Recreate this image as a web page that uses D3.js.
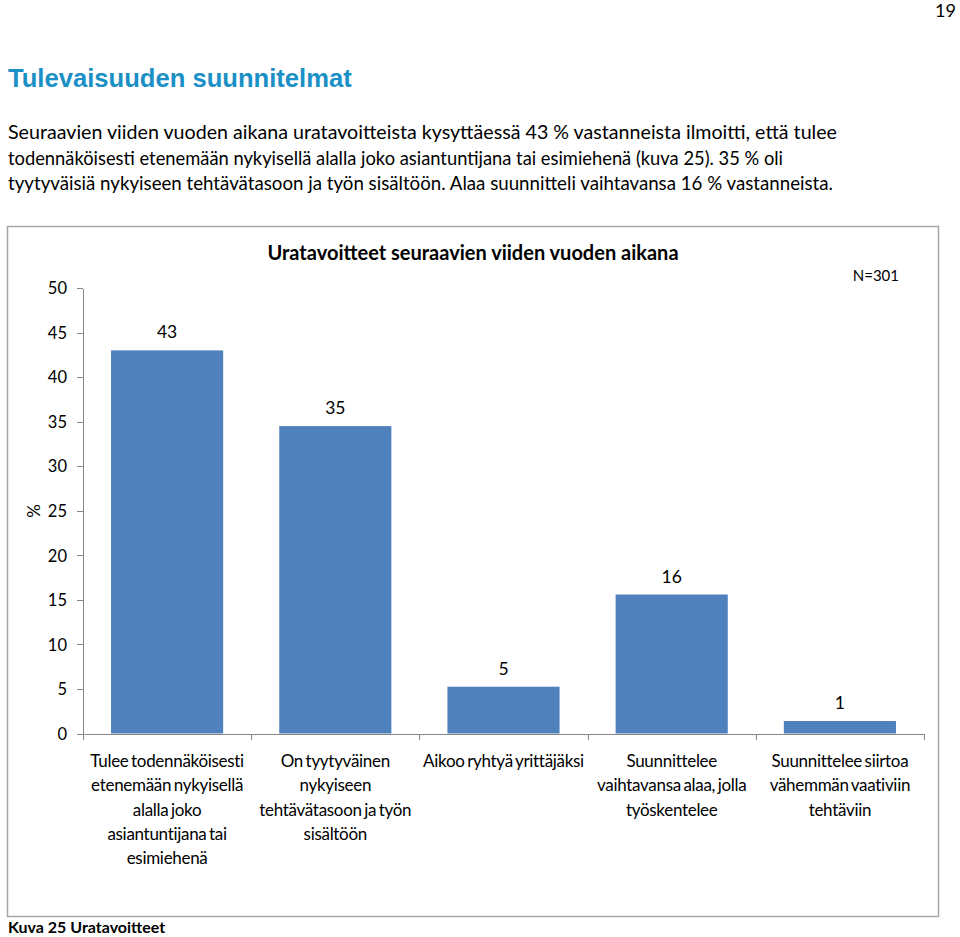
<!DOCTYPE html>
<html>
<head>
<meta charset="utf-8">
<style>
  body{margin:0;background:#fff}
  svg text{font-family:Lato,"Noto Sans",sans-serif;fill:#000}
  .axis path,.axis line{stroke:#868686;shape-rendering:crispEdges}
  .axis text{font-size:16.5px;fill:#000}
</style>
</head>
<body>
<div id="page"></div>
<script src="https://d3js.org/d3.v7.min.js"></script>
<script>
// data
var categories = [
  ["Tulee todennäköisesti", "etenemään nykyisellä", "alalla joko", "asiantuntijana tai", "esimiehenä"],
  ["On tyytyväinen", "nykyiseen", "tehtävätasoon ja työn", "sisältöön"],
  ["Aikoo ryhtyä yrittäjäksi"],
  ["Suunnittelee", "vaihtavansa alaa, jolla", "työskentelee"],
  ["Suunnittelee siirtoa", "vähemmän vaativiin", "tehtäviin"]
];
var values = [43, 34.5, 5.25, 15.6, 1.4];
var yTicks = [0, 5, 10, 15, 20, 25, 30, 35, 40, 45, 50];

var paragraph = [
  "Seuraavien viiden vuoden aikana uratavoitteista kysyttäessä 43 % vastanneista ilmoitti, että tulee",
  "todennäköisesti etenemään nykyisellä alalla joko asiantuntijana tai esimiehenä (kuva 25). 35 % oli",
  "tyytyväisiä nykyiseen tehtävätasoon ja työn sisältöön. Alaa suunnitteli vaihtavansa 16 % vastanneista."
];

(function () {
  var width = 960, height = 937;

  var svg = d3.select('#page').append('svg')
    .attr('width', width)
    .attr('height', height);

  // page number
  svg.append('text')
    .attr('x', 956).attr('y', 17)
    .attr('text-anchor', 'end')
    .style('font-size', '18px')
    .text('19');

  // heading
  svg.append('text')
    .attr('x', 8).attr('y', 87)
    .style('font-family', '"Liberation Sans",Arial,sans-serif')
    .style('font-weight', 'bold')
    .style('font-size', '25.6px')
    .style('fill', '#1a90c6')
    .text('Tulevaisuuden suunnitelmat');

  // body text
  var lineEnds = [837, 783, 833];
  svg.selectAll('text.para')
    .data(paragraph)
    .enter().append('text')
    .attr('class', 'para')
    .attr('x', 8)
    .attr('y', function (d, i) { return 139 + i * 25.5; })
    .attr('textLength', function (d, i) { return lineEnds[i] - 8; })
    .attr('lengthAdjust', 'spacingAndGlyphs')
    .style('font-size', '19px')
    .text(function (d) { return d; });

  // chart frame
  svg.append('rect')
    .attr('x', 7.5).attr('y', 226.5)
    .attr('width', 931).attr('height', 690)
    .style('fill', 'none')
    .style('stroke', '#a6a6a6')
    .style('stroke-width', 1.5);

  var x0 = 83, x1 = 924, yTop = 288, yBot = 733.5;

  var x = d3.scaleBand()
    .domain(d3.range(values.length))
    .range([x0, x1])
    .paddingInner(1 / 3)
    .paddingOuter(1 / 6);

  var xEdge = d3.scaleLinear()
    .domain([0, values.length])
    .range([x0, x1]);

  var y = d3.scaleLinear()
    .domain([0, 50])
    .range([yBot, yTop]);

  // bars
  svg.selectAll('rect.bar')
    .data(values)
    .enter().append('rect')
    .attr('class', 'bar')
    .attr('x', function (d, i) { return x(i); })
    .attr('y', function (d) { return y(d); })
    .attr('width', x.bandwidth())
    .attr('height', function (d) { return y(0) - y(d); })
    .style('fill', '#4f81bd');

  // y axis
  var yAxis = svg.append('g')
    .attr('class', 'axis')
    .attr('transform', 'translate(' + x0 + ',0)')
    .call(d3.axisLeft(y).tickValues(yTicks).tickSize(6).tickSizeOuter(0).tickPadding(10));
  yAxis.selectAll('text').attr('dy', '0.35em');

  // x axis: ticks on category boundaries
  svg.append('g')
    .attr('class', 'axis')
    .attr('transform', 'translate(0,' + yBot + ')')
    .call(d3.axisBottom(xEdge).tickValues(d3.range(values.length + 1)).tickFormat('').tickSize(6).tickSizeOuter(0));

  // value labels
  svg.selectAll('text.val')
    .data(values)
    .enter().append('text')
    .attr('class', 'val')
    .attr('x', function (d, i) { return x(i) + x.bandwidth() / 2; })
    .attr('y', function (d) { return y(d) - 12; })
    .attr('text-anchor', 'middle')
    .style('font-size', '17.5px')
    .text(function (d) { return Math.round(d); });

  // category labels
  var cat = svg.selectAll('text.cat')
    .data(categories)
    .enter().append('text')
    .attr('class', 'cat')
    .attr('text-anchor', 'middle')
    .style('font-size', '17px')
    .style('letter-spacing', '-0.3px')
    .style('word-spacing', '-1.5px');
  cat.selectAll('tspan')
    .data(function (d, i) { return d.map(function (t) { return { t: t, i: i }; }); })
    .enter().append('tspan')
    .attr('x', function (d) { return x(d.i) + x.bandwidth() / 2; })
    .attr('y', function (d, j) { return 767 + j * 24.3; })
    .text(function (d) { return d.t; });

  // y axis title
  svg.append('text')
    .attr('transform', 'translate(40,511) rotate(-90)')
    .attr('text-anchor', 'middle')
    .style('font-size', '17px')
    .text('%');

  // chart title
  svg.append('text')
    .attr('x', 473).attr('y', 260)
    .attr('text-anchor', 'middle')
    .style('font-weight', 'bold')
    .style('font-size', '20px')
    .text('Uratavoitteet seuraavien viiden vuoden aikana');

  svg.append('text')
    .attr('x', 899).attr('y', 281)
    .attr('text-anchor', 'end')
    .style('font-size', '15px')
    .text('N=301');

  // caption
  svg.append('text')
    .attr('x', 8).attr('y', 933)
    .style('font-weight', 'bold')
    .style('font-size', '16px')
    .text('Kuva 25 Uratavoitteet');
})();
</script>
</body>
</html>
